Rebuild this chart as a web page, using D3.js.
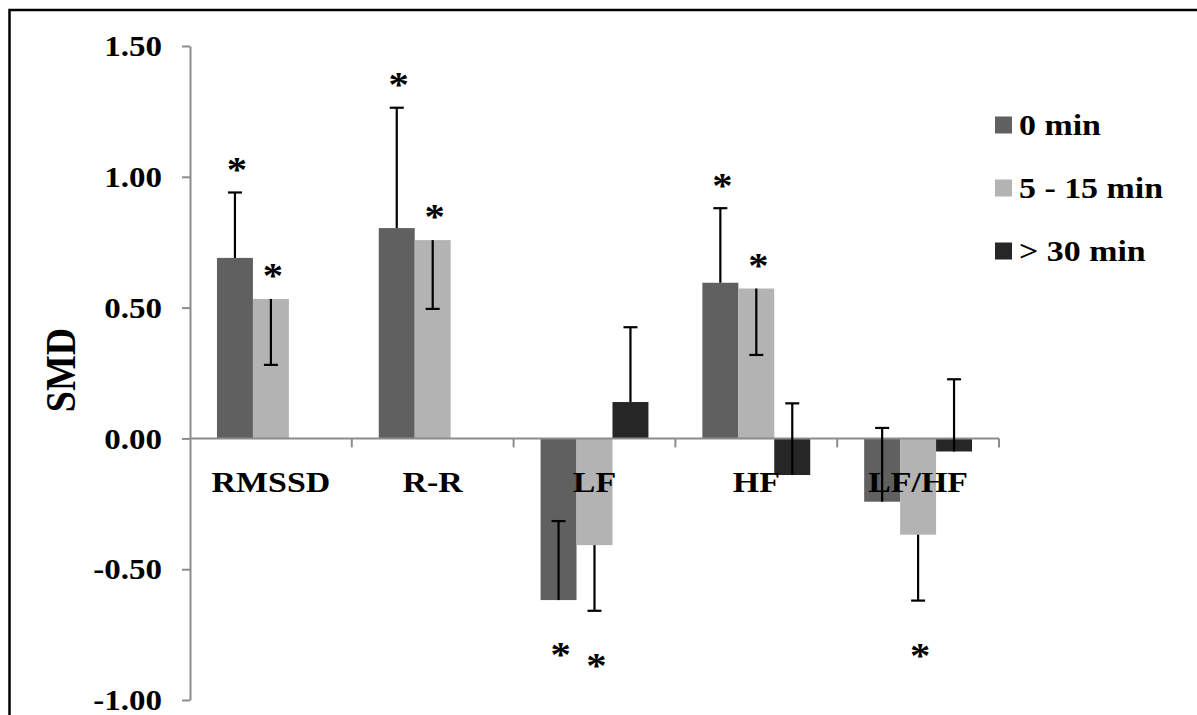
<!DOCTYPE html>
<html>
<head>
<meta charset="utf-8">
<script src="https://cdn.jsdelivr.net/npm/d3@7"></script>
<style>
  html, body { margin: 0; padding: 0; background: #fff; }
  svg { display: block; }
  text { font-family: "Liberation Serif", "Times New Roman", serif; font-weight: bold; fill: #000; }
</style>
</head>
<body>
<svg id="chart" width="1197" height="715"></svg>
<script>
// ---- data ----
const categories = ["RMSSD", "R-R", "LF", "HF", "LF/HF"];
const seriesNames = ["0 min", "5 - 15 min", "> 30 min"];
const seriesColors = ["#606060", "#b3b3b3", "#262626"];
// SMD values (null = not reported)
const values0  = [0.69, 0.804, -0.618, 0.595, -0.242];
const values5  = [0.533, 0.758, -0.408, 0.573, -0.368];
const values30 = [null, null, 0.139, -0.14, -0.05];
// error bar far ends
const errEnd0  = [0.94, 1.264, -0.316, 0.88, 0.04];
const errEnd5  = [0.281, 0.495, -0.659, 0.319, -0.62];
const errEnd30 = [null, null, 0.425, 0.134, 0.226];
// significance markers
const sig0  = [true, true, true, true, false];
const sig5  = [true, true, true, true, true];
const sig30 = [false, false, false, false, false];
const yTicks = [-1.0, -0.5, 0.0, 0.5, 1.0, 1.5];
const yLabel = "SMD";

const seriesValues = [values0, values5, values30];
const seriesErr = [errEnd0, errEnd5, errEnd30];
const seriesSig = [sig0, sig5, sig30];

// ---- layout ----
const svg = d3.select("#chart");
const X0 = 190, X1 = 999, YTOP = 46, YBOT = 700;
const SX = 1.13; // horizontal glyph stretch

// frame
svg.append("rect").attr("x", 9.5).attr("y", 10).attr("width", 1300).attr("height", 800)
  .attr("fill", "none").attr("stroke", "#000").attr("stroke-width", 2.5);

const y = d3.scaleLinear().domain([-1, 1.5]).range([YBOT, YTOP]);
const x = d3.scaleBand().domain(categories).range([X0, X1]).paddingInner(0).paddingOuter(0);
const xs = d3.scaleBand().domain(d3.range(seriesNames.length)).range([0, x.bandwidth()])
  .paddingInner(0).paddingOuter(0.75);

const rows = [];
seriesNames.forEach((s, si) => {
  categories.forEach((c, ci) => {
    const v = seriesValues[si][ci];
    if (v === null) return;
    rows.push({ si, ci, c, v, e: seriesErr[si][ci], sig: seriesSig[si][ci] });
  });
});

// bars
svg.append("g").selectAll("rect").data(rows).join("rect")
  .attr("x", d => x(d.c) + xs(d.si))
  .attr("width", xs.bandwidth())
  .attr("y", d => y(Math.max(0, d.v)))
  .attr("height", d => Math.abs(y(d.v) - y(0)))
  .attr("fill", d => seriesColors[d.si]);

// y axis
const fmt = d => d3.format(".2f")(d).replace("\u2212", "-");
const yAxis = svg.append("g").attr("transform", `translate(${X0},0)`)
  .call(d3.axisLeft(y).tickValues(yTicks).tickSize(8).tickSizeOuter(0).tickFormat(fmt));
yAxis.select(".domain").attr("stroke", "#8c8c8c").attr("stroke-width", 2);
yAxis.selectAll(".tick line").attr("stroke", "#8c8c8c").attr("stroke-width", 2);
yAxis.selectAll(".tick text")
  .attr("x", null).attr("dy", "0.32em")
  .attr("transform", `translate(-28,0) scale(1.1,1)`)
  .style("font-size", "30px").style("font-family", "'Liberation Serif', serif").style("font-weight", "bold")
  .attr("text-anchor", "end");

// x axis (at zero)
const xAxis = svg.append("g").attr("transform", `translate(0,${y(0)})`);
xAxis.append("line").attr("x1", X0).attr("x2", X1).attr("y1", 0).attr("y2", 0)
  .attr("stroke", "#8c8c8c").attr("stroke-width", 2);
const boundaries = categories.map(c => x(c) + x.bandwidth());
xAxis.selectAll("line.tk").data(boundaries).join("line").attr("class", "tk")
  .attr("x1", d => d).attr("x2", d => d).attr("y1", 0).attr("y2", 9)
  .attr("stroke", "#8c8c8c").attr("stroke-width", 2);

// category labels
svg.append("g").selectAll("text").data(categories).join("text")
  .attr("transform", d => `translate(${x(d) + x.bandwidth() / 2},492) scale(${SX},1)`)
  .attr("text-anchor", "middle")
  .style("font-size", "30px")
  .text(d => d);

// error bars
const eb = svg.append("g").selectAll("g").data(rows.filter(d => d.e !== null)).join("g")
  .attr("transform", d => `translate(${x(d.c) + xs(d.si) + xs.bandwidth() / 2},0)`);
eb.append("line").attr("x1", 0).attr("x2", 0)
  .attr("y1", d => y(d.v)).attr("y2", d => y(d.e))
  .attr("stroke", "#000").attr("stroke-width", 2.2);
eb.append("line").attr("x1", -7).attr("x2", 7)
  .attr("y1", d => y(d.e)).attr("y2", d => y(d.e))
  .attr("stroke", "#000").attr("stroke-width", 2.2);

// asterisks
svg.append("g").selectAll("text").data(rows.filter(d => d.sig)).join("text")
  .attr("transform", d => {
    const cx = x(d.c) + xs(d.si) + xs.bandwidth() / 2 + 2;
    const hi = Math.max(d.v, d.e), lo = Math.min(d.v, d.e);
    const cy = d.v >= 0 ? y(hi) - 33 : y(lo) + 45;
    return `translate(${cx},${cy}) scale(${SX},1)`;
  })
  .attr("text-anchor", "middle")
  .attr("dy", "0.62em")
  .style("font-size", "36px")
  .style("font-weight", "bold")
  .text("*");

// y label
svg.append("text")
  .attr("transform", `translate(61,370) rotate(-90) scale(1,${SX})`)
  .attr("text-anchor", "middle").attr("dy", "0.33em")
  .style("font-size", "38px")
  .text(yLabel);

// legend
const lg = svg.append("g").selectAll("g").data(seriesNames).join("g")
  .attr("transform", (d, i) => `translate(995,${125 + i * 63})`);
lg.append("rect").attr("x", 0).attr("y", -8.5).attr("width", 17).attr("height", 17)
  .attr("fill", (d, i) => seriesColors[i]);
lg.append("text")
  .attr("transform", `translate(24,0) scale(${SX},1)`)
  .attr("dy", "0.34em")
  .style("font-size", "30px")
  .text(d => d);
</script>
</body>
</html>
